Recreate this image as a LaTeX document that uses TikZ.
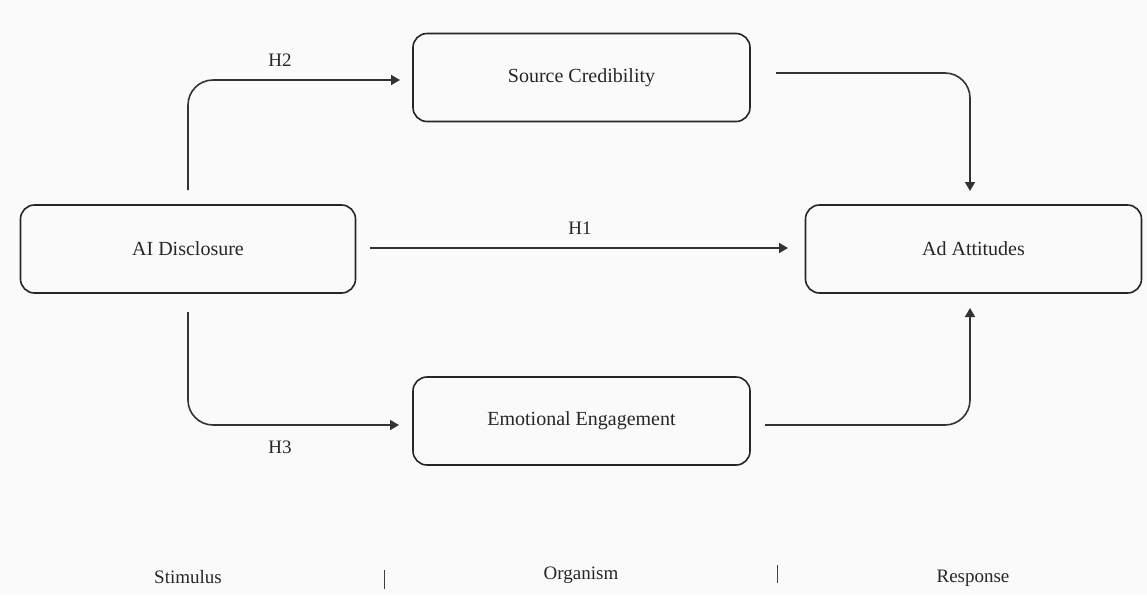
\documentclass[tikz,border=0pt]{standalone}
\usepackage{fontspec}
\setmainfont{Liberation Serif}
\usetikzlibrary{arrows.meta}
\begin{document}
\begin{tikzpicture}[x=1pt,y=-1pt,
  box/.style={draw=black!85, line width=1.6pt, rounded corners=14pt, minimum height=88pt, align=center, font=\fontsize{20}{24}\selectfont, text=black!85},
  conn/.style={draw=black!80, line width=1.6pt, rounded corners=25pt, -{Triangle[length=9pt,width=10pt]}},
  lbl/.style={font=\fontsize{19}{22}\selectfont, text=black!85},
  sep/.style={draw=black!75, line width=1pt}]
\fill[black!2] (0,0) rectangle (1147,595);
\useasboundingbox (0,0) rectangle (1147,595);
\node[box, minimum width=335pt] (ai) at (188,249) {AI Disclosure};
\node[box, minimum width=337pt] (sc) at (581.5,77.5) {Source Credibility};
\node[box, minimum width=337pt] (ee) at (581.5,421) {Emotional Engagement};
\node[box, minimum width=336pt] (ad) at (973.5,249) {Ad Attitudes};
\coordinate (h2s) at (188,190);
\coordinate (h2e) at (400,80);
\coordinate (h3s) at (188,312);
\coordinate (h3e) at (399,425);
\coordinate (h1s) at (370,248);
\coordinate (h1e) at (788,248);
\coordinate (sco) at (776,73);
\coordinate (adt) at (970,191);
\coordinate (eeo) at (765,425);
\coordinate (adb) at (970,308);
\draw[conn] (h2s) |- (h2e);
\draw[conn] (h3s) |- (h3e);
\draw[conn] (h1s) -- (h1e);
\draw[conn] (sco) -| (adt);
\draw[conn] (eeo) -| (adb);
\node[lbl] (l2) at (280,60) {H2};
\node[lbl] (l1) at (580,228) {H1};
\node[lbl] (l3) at (280,447) {H3};
\node[lbl] (s1) at (188,577) {Stimulus};
\node[lbl] (s2) at (581,575) {Organism};
\node[lbl] (s3) at (973,578) {Response};
\coordinate (d1a) at (384,570);
\coordinate (d1b) at (384,589);
\coordinate (d2a) at (777,565);
\coordinate (d2b) at (777,583);
\draw[sep] (d1a) -- (d1b);
\draw[sep] (d2a) -- (d2b);
\end{tikzpicture}
\end{document}
